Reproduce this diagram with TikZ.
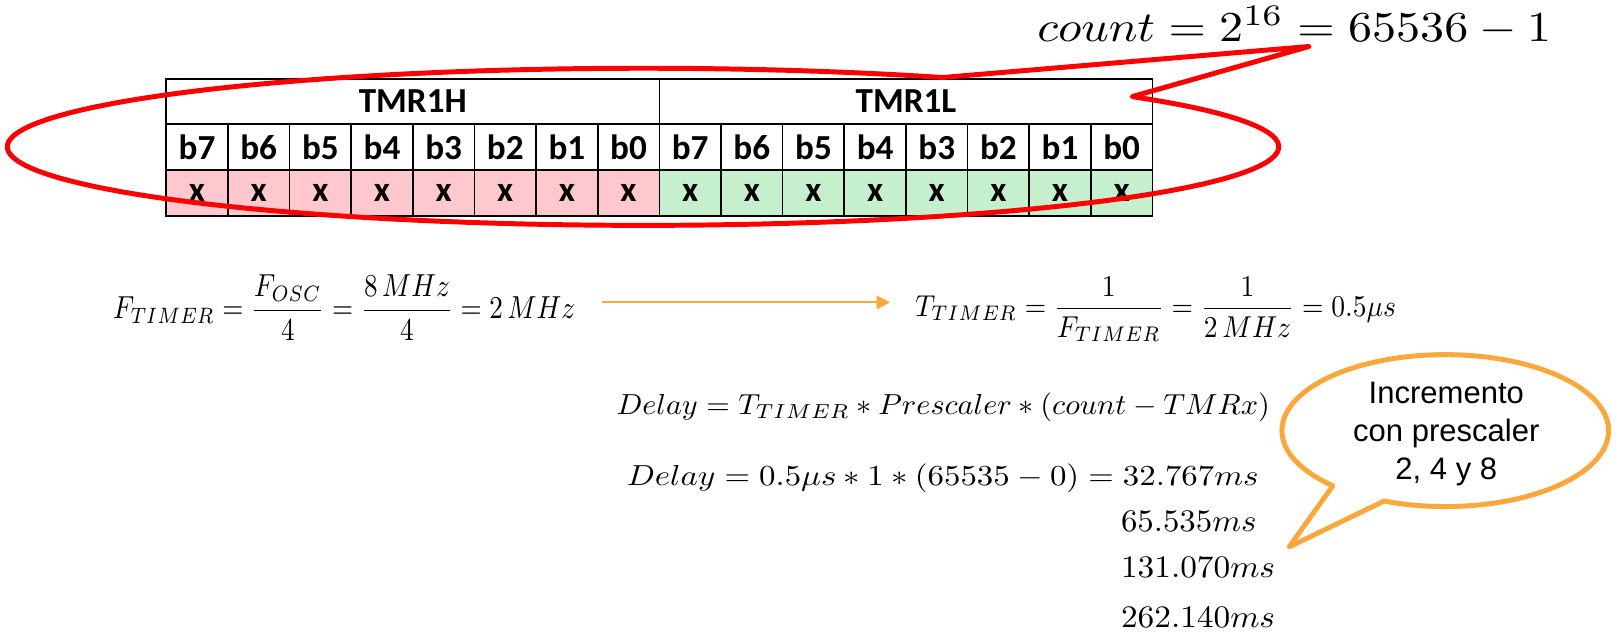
\documentclass[tikz,border=0pt]{standalone}
\usepackage{amsmath}
\usepackage{graphicx}
\usepackage{fontspec}
\newfontfamily\tabfont{Carlito}
\newfontfamily\calfont{Liberation Sans}
\usetikzlibrary{arrows.meta}
\definecolor{redline}{RGB}{255,0,0}
\definecolor{orangeline}{RGB}{250,168,60}
\definecolor{pinkfill}{RGB}{255,199,206}
\definecolor{greenfill}{RGB}{198,239,206}
\tikzset{
  cellbox/.style={draw=black, line width=0.8pt, inner sep=0pt, anchor=north west,
    minimum width=29.8125pt, font=\tabfont\bfseries\fontsize{17}{20}\selectfont},
  headbox/.style={cellbox, minimum width=238.5pt, minimum height=21.75pt},
  bitbox/.style={cellbox, minimum height=22.25pt},
  xbox/.style={cellbox, minimum height=22.25pt},
  formula/.style={inner sep=0pt, anchor=west},
  msline/.style={inner sep=0pt, anchor=base west},
  calltext/.style={align=center, inner sep=0pt, anchor=base, font=\calfont\fontsize{15}{18.5}\selectfont}
}
\begin{document}
\begin{tikzpicture}[x=0.5pt, y=-0.5pt]
\useasboundingbox (0,0) rectangle (1568,618.1);
% table
\node[headbox] (hH) at (160,75.5) {TMR1H};
\node[headbox] (hL) at (637,75.5) {TMR1L};
\foreach \i/\b in {0/7,1/6,2/5,3/4,4/3,5/2,6/1,7/0}{
  \node[bitbox] (bH\i) at ({160+59.625*\i},119) {b\b};
  \node[bitbox] (bL\i) at ({637+59.625*\i},119) {b\b};
  \node[xbox, fill=pinkfill] (xH\i) at ({160+59.625*\i},163.5) {\raisebox{-2pt}{x}};
  \node[xbox, fill=greenfill] (xL\i) at ({637+59.625*\i},163.5) {\raisebox{-2pt}{x}};
}
% count
\node[inner sep=0pt, anchor=base west] (cnt) at (1003,40)
  {\resizebox*{248.5pt}{18.5pt}{$count=2^{16}=65536-1$}};
% red callout
\coordinate (redtip) at (1266,45);
\draw[redline, line width=2.4pt, line join=round]
  plot[domain=61.9:399.7, samples=140] ({622+615*cos(\x)},{142-76*sin(\x)})
  -- (redtip) -- cycle;
% formulas
\node[formula] (F) at (109,297.5)
  {\resizebox*{223.5pt}{31.5pt}{$F_{TIMER}=\dfrac{F_{OSC}}{4}=\dfrac{8\,MHz}{4}=2\,MHz$}};
\node[formula] (T) at (885,299)
  {\resizebox*{232.5pt}{31.5pt}{$T_{TIMER}=\dfrac{1}{F_{TIMER}}=\dfrac{1}{2\,MHz}=0.5\mu s$}};
\coordinate (a1) at (582,292.5);
\coordinate (a2) at (861,292.5);
\draw[orangeline, line width=0.9pt, -{Triangle[length=6.5pt,width=6.5pt]}] (a1) -- (a2);
\node[formula] (D1) at (596,394)
  {\resizebox*{316pt}{14pt}{$Delay=T_{TIMER}*Prescaler*(count-TMRx)$}};
\node[formula] (D2) at (606,463)
  {\resizebox*{305.5pt}{14pt}{$Delay=0.5\mu s*1*(65535-0)=32.767ms$}};
\node[msline] (m1) at (1084,514) {\resizebox*{65.5pt}{9.75pt}{$65.535ms$}};
\node[msline] (m2) at (1084,559) {\resizebox*{74.5pt}{9.75pt}{$131.070ms$}};
\node[msline] (m3) at (1084,607) {\resizebox*{74.5pt}{9.75pt}{$262.140ms$}};
% orange callout
\coordinate (otip) at (1247,529);
\draw[orangeline, line width=2.4pt, line join=round, fill=white]
  plot[domain=248:586.5, samples=140] ({1398+158*cos(\x)},{416.5-73.5*sin(\x)})
  -- (otip) -- cycle;
\node[calltext] (ct) at (1399,464) {Incremento\\con prescaler\\2, 4 y 8};
\end{tikzpicture}
\end{document}
